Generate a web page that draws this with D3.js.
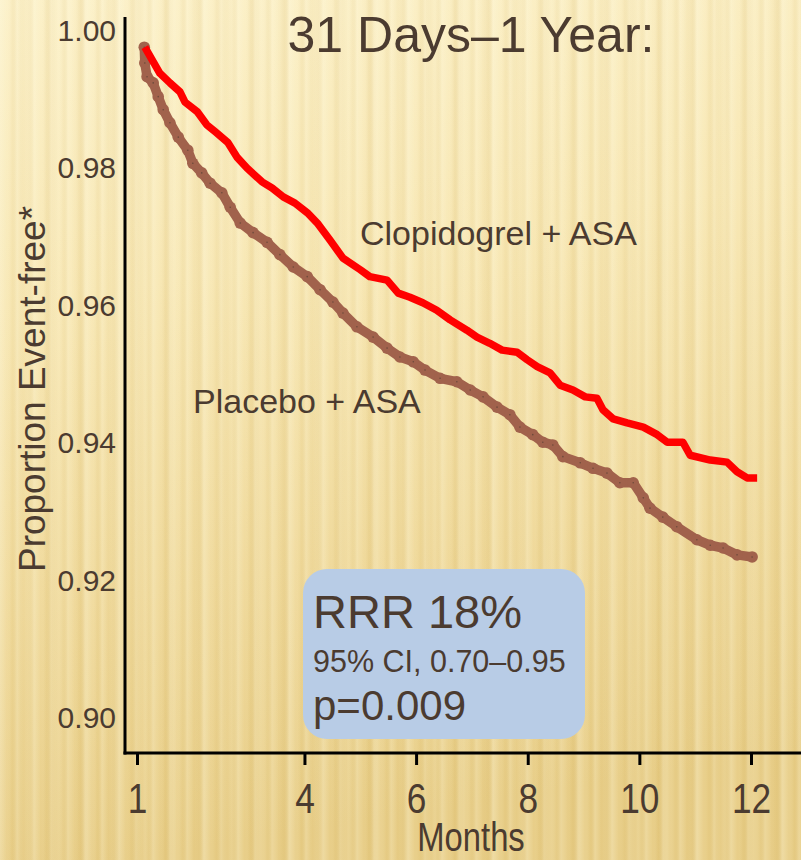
<!DOCTYPE html>
<html>
<head>
<meta charset="utf-8">
<script src="https://cdn.jsdelivr.net/npm/d3@7"></script>
<style>
  html, body { margin: 0; padding: 0; background: #f3e2a8; }
  svg { display: block; }
</style>
</head>
<body>
<svg id="chart" width="801" height="860"></svg>
<script>
// Kaplan-Meier style curves, months 1 to 12 after randomisation
const clopidogrelMonths = [1.14, 1.41, 1.59, 1.77, 1.86, 2.08, 2.25, 2.40, 2.63, 2.79, 2.97, 3.24, 3.42, 3.62, 3.83, 4.05, 4.23, 4.46, 4.69, 5.00, 5.17, 5.48, 5.68, 5.89, 6.12, 6.37, 6.61, 6.91, 7.09, 7.32, 7.54, 7.81, 7.99, 8.17, 8.40, 8.58, 8.81, 9.03, 9.24, 9.35, 9.53, 9.78, 10.07, 10.32, 10.50, 10.78, 10.91, 11.27, 11.57, 11.75, 11.93, 12.11];
const clopidogrelSurvival = [0.9975, 0.9937, 0.9923, 0.9910, 0.9895, 0.9881, 0.9862, 0.9852, 0.9836, 0.9815, 0.9799, 0.9779, 0.9770, 0.9757, 0.9748, 0.9734, 0.9719, 0.9694, 0.9668, 0.9651, 0.9641, 0.9636, 0.9617, 0.9611, 0.9603, 0.9592, 0.9578, 0.9563, 0.9553, 0.9544, 0.9534, 0.9531, 0.9520, 0.9510, 0.9501, 0.9483, 0.9476, 0.9466, 0.9464, 0.9447, 0.9434, 0.9428, 0.9422, 0.9411, 0.9400, 0.9400, 0.9381, 0.9374, 0.9371, 0.9357, 0.9348, 0.9348];

const placeboMonths = [1.13, 1.14, 1.18, 1.29, 1.38, 1.47, 1.59, 1.74, 1.91, 2.00, 2.16, 2.31, 2.52, 2.67, 2.85, 3.08, 3.33, 3.56, 3.80, 4.05, 4.28, 4.51, 4.69, 4.94, 5.23, 5.48, 5.71, 5.95, 6.16, 6.43, 6.73, 6.97, 7.20, 7.45, 7.68, 7.86, 8.09, 8.27, 8.45, 8.63, 8.94, 9.17, 9.42, 9.65, 9.89, 10.07, 10.19, 10.42, 10.67, 11.03, 11.27, 11.50, 11.75, 12.02];
const placeboSurvival = [0.9975, 0.9952, 0.9932, 0.9923, 0.9903, 0.9884, 0.9865, 0.9844, 0.9825, 0.9806, 0.9792, 0.9777, 0.9763, 0.9742, 0.9719, 0.9705, 0.9691, 0.9673, 0.9655, 0.9641, 0.9622, 0.9604, 0.9588, 0.9568, 0.9553, 0.9537, 0.9524, 0.9517, 0.9505, 0.9493, 0.9488, 0.9476, 0.9466, 0.9451, 0.9440, 0.9422, 0.9411, 0.9400, 0.9396, 0.9379, 0.9370, 0.9362, 0.9355, 0.9341, 0.9341, 0.9319, 0.9304, 0.9291, 0.9277, 0.9258, 0.9250, 0.9246, 0.9236, 0.9233];

const xTicks = [1, 4, 6, 8, 10, 12];
const yTicks = [0.90, 0.92, 0.94, 0.96, 0.98, 1.00];

const title = "31 Days\u20131 Year:";
const seriesLabels = ["Clopidogrel + ASA", "Placebo + ASA"];
const statLines = ["RRR 18%", "95% CI, 0.70\u20130.95", "p=0.009"];

const W = 801, H = 860;
const svg = d3.select("#chart");
const defs = svg.append("defs");

// background: warm gold wash with soft vertical ribs
const bg = defs.append("linearGradient").attr("id", "bg")
  .attr("x1", 0).attr("y1", 0).attr("x2", 0.15).attr("y2", 1);
[["0%", "#fcf1c9"], ["35%", "#f8e8b5"], ["70%", "#f0da9c"], ["100%", "#e8ce88"]]
  .forEach(([o, c]) => bg.append("stop").attr("offset", o).attr("stop-color", c));

function ribs(id, period, light, dark) {
  const g = defs.append("linearGradient").attr("id", id)
    .attr("gradientUnits", "userSpaceOnUse")
    .attr("x1", 0).attr("y1", 0).attr("x2", period).attr("y2", 0)
    .attr("spreadMethod", "repeat");
  g.append("stop").attr("offset", "0%").attr("stop-color", "#fffbe6").attr("stop-opacity", light);
  g.append("stop").attr("offset", "40%").attr("stop-color", "#fffbe6").attr("stop-opacity", 0);
  g.append("stop").attr("offset", "70%").attr("stop-color", "#b88a20").attr("stop-opacity", dark);
  g.append("stop").attr("offset", "100%").attr("stop-color", "#fffbe6").attr("stop-opacity", light);
}
ribs("ribA", 17, 0.20, 0.06);
ribs("ribB", 29, 0.12, 0.05);

svg.append("rect").attr("width", W).attr("height", H).attr("fill", "url(#bg)");
svg.append("rect").attr("width", W).attr("height", H).attr("fill", "url(#ribA)");
svg.append("rect").attr("width", W).attr("height", H).attr("fill", "url(#ribB)");

const textColor = "#4b3b30";
const sans = "Liberation Sans, Arial, sans-serif";
const narrowScale = "scale(0.82,1)";

// scales
const x = d3.scaleLinear().domain([1, 12]).range([137, 751]);
const y = d3.scaleLinear().domain([0.90, 1.00]).range([717, 30]);

// title
svg.append("text").attr("x", 471).attr("y", 52)
  .attr("text-anchor", "middle")
  .attr("font-family", sans)
  .attr("font-size", 50).attr("fill", textColor)
  .text(title);

// y axis: labels only, plus a plain vertical rule
const yAxis = d3.axisLeft(y).tickValues(yTicks).tickSize(0).tickPadding(0)
  .tickFormat(d3.format(".2f"));
const gy = svg.append("g").attr("transform", "translate(116,0)").call(yAxis);
gy.select(".domain").remove();
gy.selectAll("text")
  .attr("font-family", sans)
  .attr("font-size", 30).attr("fill", textColor)
  .attr("dy", "0.35em");

svg.append("line").attr("x1", 125).attr("x2", 125).attr("y1", 17).attr("y2", 754.5)
  .attr("stroke", "#000").attr("stroke-width", 3);

// x axis with condensed labels
const xAxis = d3.axisBottom(x).tickValues(xTicks).tickSize(12).tickSizeOuter(0).tickPadding(17)
  .tickFormat(d3.format("d"));
const gx = svg.append("g").attr("transform", "translate(0,753)").call(xAxis);
gx.select(".domain").remove();
gx.selectAll(".tick line").attr("stroke", "#000").attr("stroke-width", 3);
gx.selectAll("text")
  .attr("font-family", sans)
  .attr("font-size", 43).attr("fill", textColor)
  .attr("transform", narrowScale);

svg.append("line").attr("x1", 123.5).attr("x2", W).attr("y1", 753).attr("y2", 753)
  .attr("stroke", "#000").attr("stroke-width", 3);

svg.append("g").attr("transform", "translate(471,851)")
  .append("text")
  .attr("transform", narrowScale)
  .attr("text-anchor", "middle")
  .attr("font-family", sans)
  .attr("font-size", 40).attr("fill", textColor)
  .text("Months");

svg.append("text")
  .attr("transform", "translate(45,389) rotate(-90)")
  .attr("text-anchor", "middle")
  .attr("font-family", sans)
  .attr("font-size", 37).attr("fill", textColor)
  .text("Proportion Event-free*");

// curves
const line = d3.line().x(d => x(d[0])).y(d => y(d[1]));

const placebo = placeboMonths.map((m, i) => [m, placeboSurvival[i]]);
const clopidogrel = clopidogrelMonths.map((m, i) => [m, clopidogrelSurvival[i]]);

const brown = "#a1624c";
svg.append("path").datum(placebo)
  .attr("d", line).attr("fill", "none")
  .attr("stroke", brown).attr("stroke-width", 9.5)
  .attr("stroke-linejoin", "round").attr("stroke-linecap", "round");
svg.append("g").selectAll("circle").data(placebo).join("circle")
  .attr("cx", d => x(d[0])).attr("cy", d => y(d[1])).attr("r", 5.8)
  .attr("fill", brown);
svg.append("g").selectAll("circle").data(placebo).join("circle")
  .attr("cx", d => x(d[0])).attr("cy", d => y(d[1])).attr("r", 0.8)
  .attr("fill", "#4a3a30").attr("opacity", 0.6);

svg.append("path").datum(clopidogrel)
  .attr("d", line).attr("fill", "none")
  .attr("stroke", "#ff0000").attr("stroke-width", 7.5)
  .attr("stroke-linejoin", "round").attr("stroke-linecap", "butt");

// series labels
svg.append("text").attr("x", 360).attr("y", 245)
  .attr("font-family", sans).attr("font-size", 34).attr("fill", textColor)
  .text(seriesLabels[0]);
svg.append("text").attr("x", 193).attr("y", 413)
  .attr("font-family", sans).attr("font-size", 34).attr("fill", textColor)
  .text(seriesLabels[1]);

// statistics box
svg.append("rect").attr("x", 303).attr("y", 569).attr("width", 282).attr("height", 170)
  .attr("rx", 24).attr("ry", 24).attr("fill", "#b8cce6");
svg.append("text").attr("x", 313).attr("y", 628)
  .attr("font-family", sans).attr("font-size", 47).attr("fill", textColor)
  .text(statLines[0]);
svg.append("text").attr("x", 313).attr("y", 672)
  .attr("font-family", sans).attr("font-size", 30.5).attr("fill", textColor)
  .text(statLines[1]);
svg.append("text").attr("x", 313).attr("y", 720)
  .attr("font-family", sans).attr("font-size", 42).attr("fill", textColor)
  .text(statLines[2]);
</script>
</body>
</html>
